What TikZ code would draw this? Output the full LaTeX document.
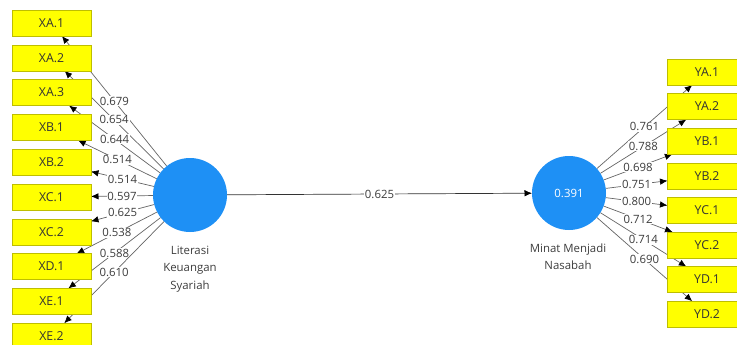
\documentclass[tikz,border=0pt]{standalone}
\usepackage{fontspec}
\setmainfont{Open Sans}
\usepackage{xcolor}
\usetikzlibrary{arrows.meta,backgrounds,positioning}

\definecolor{lvblue}{RGB}{30,144,245}
\definecolor{indyel}{RGB}{255,255,0}
\definecolor{indline}{RGB}{190,190,0}
\definecolor{pathgray}{RGB}{100,100,100}
\definecolor{txtgray}{RGB}{60,60,60}

\tikzset{
  latent/.style={shape=circle,fill=lvblue,draw=none,minimum size=74pt,inner sep=0pt,outer sep=0pt,
    text=white,font=\fontsize{11.4}{14}\selectfont},
  indic/.style={shape=rectangle,fill=indyel,draw=indline,line width=0.5pt,minimum width=79pt,
    minimum height=26pt,inner sep=0pt,outer sep=0pt,text=black!80,font=\fontsize{12.3}{14}\selectfont},
  caption/.style={align=center,text=txtgray,font=\fontsize{11.4}{17.5}\selectfont},
  loading/.style={fill=white,inner sep=0.8pt,text=txtgray,font=\fontsize{11.4}{14}\selectfont},
  pathln/.style={draw=pathgray,line width=0.7pt,-{Latex[color=black,length=7.5pt,width=6.5pt]}}
}

\begin{document}
\begin{tikzpicture}[x=1pt,y=-1pt]
    \useasboundingbox (0,0) rectangle (737,345);
    \node[latent] (LKS) at (190,195) {};
    \node[latent] (MMN) at (569,193) {0.391};
    \node[caption] (LKScap) at (190,269) {Literasi\\Keuangan\\Syariah};
    \node[caption] (MMNcap) at (568,256.5) {Minat Menjadi\\Nasabah};
    % indicators of Literasi Keuangan Syariah
    \node[indic] (XA1) at (51.5,23) {XA.1};
    \node[indic] (XA2) at (51.5,57.8) {XA.2};
    \node[indic] (XA3) at (51.5,92.6) {XA.3};
    \node[indic] (XB1) at (51.5,127.4) {XB.1};
    \node[indic] (XB2) at (51.5,162.2) {XB.2};
    \node[indic] (XC1) at (51.5,197) {XC.1};
    \node[indic] (XC2) at (51.5,231.8) {XC.2};
    \node[indic] (XD1) at (51.5,266.6) {XD.1};
    \node[indic] (XE1) at (51.5,301.4) {XE.1};
    \node[indic] (XE2) at (51.5,336.2) {XE.2};
    % indicators of Minat Menjadi Nasabah
    \node[indic] (YA1) at (707,72) {YA.1};
    \node[indic] (YA2) at (707,106.6) {YA.2};
    \node[indic] (YB1) at (707,141.2) {YB.1};
    \node[indic] (YB2) at (707,175.8) {YB.2};
    \node[indic] (YC1) at (707,210.4) {YC.1};
    \node[indic] (YC2) at (707,245) {YC.2};
    \node[indic] (YD1) at (707,279.6) {YD.1};
    \node[indic] (YD2) at (707,314.2) {YD.2};
    \begin{scope}[on background layer]
    \path [pathln](LKS) edge node[loading] {0.679} (XA1);
    \path [pathln](LKS) edge node[loading] {0.654} (XA2);
    \path [pathln](LKS) edge node[loading] {0.644} (XA3);
    \path [pathln](LKS) edge node[loading] {0.514} (XB1);
    \path [pathln](LKS) edge node[loading] {0.514} (XB2);
    \path [pathln](LKS) edge node[loading] {0.597} (XC1);
    \path [pathln](LKS) edge node[loading] {0.625} (XC2);
    \path [pathln](LKS) edge node[loading] {0.538} (XD1);
    \path [pathln](LKS) edge node[loading] {0.588} (XE1);
    \path [pathln](LKS) edge node[loading] {0.610} (XE2);
    \path [pathln](MMN) edge node[loading] {0.761} (YA1);
    \path [pathln](MMN) edge node[loading] {0.788} (YA2);
    \path [pathln](MMN) edge node[loading] {0.698} (YB1);
    \path [pathln](MMN) edge node[loading] {0.751} (YB2);
    \path [pathln](MMN) edge node[loading] {0.800} (YC1);
    \path [pathln](MMN) edge node[loading] {0.712} (YC2);
    \path [pathln](MMN) edge node[loading] {0.714} (YD1);
    \path [pathln](MMN) edge node[loading] {0.690} (YD2);
    \path [pathln,draw=black!80](LKS) edge node[loading] {0.625} (MMN);
    \end{scope}
\end{tikzpicture}
\end{document}
